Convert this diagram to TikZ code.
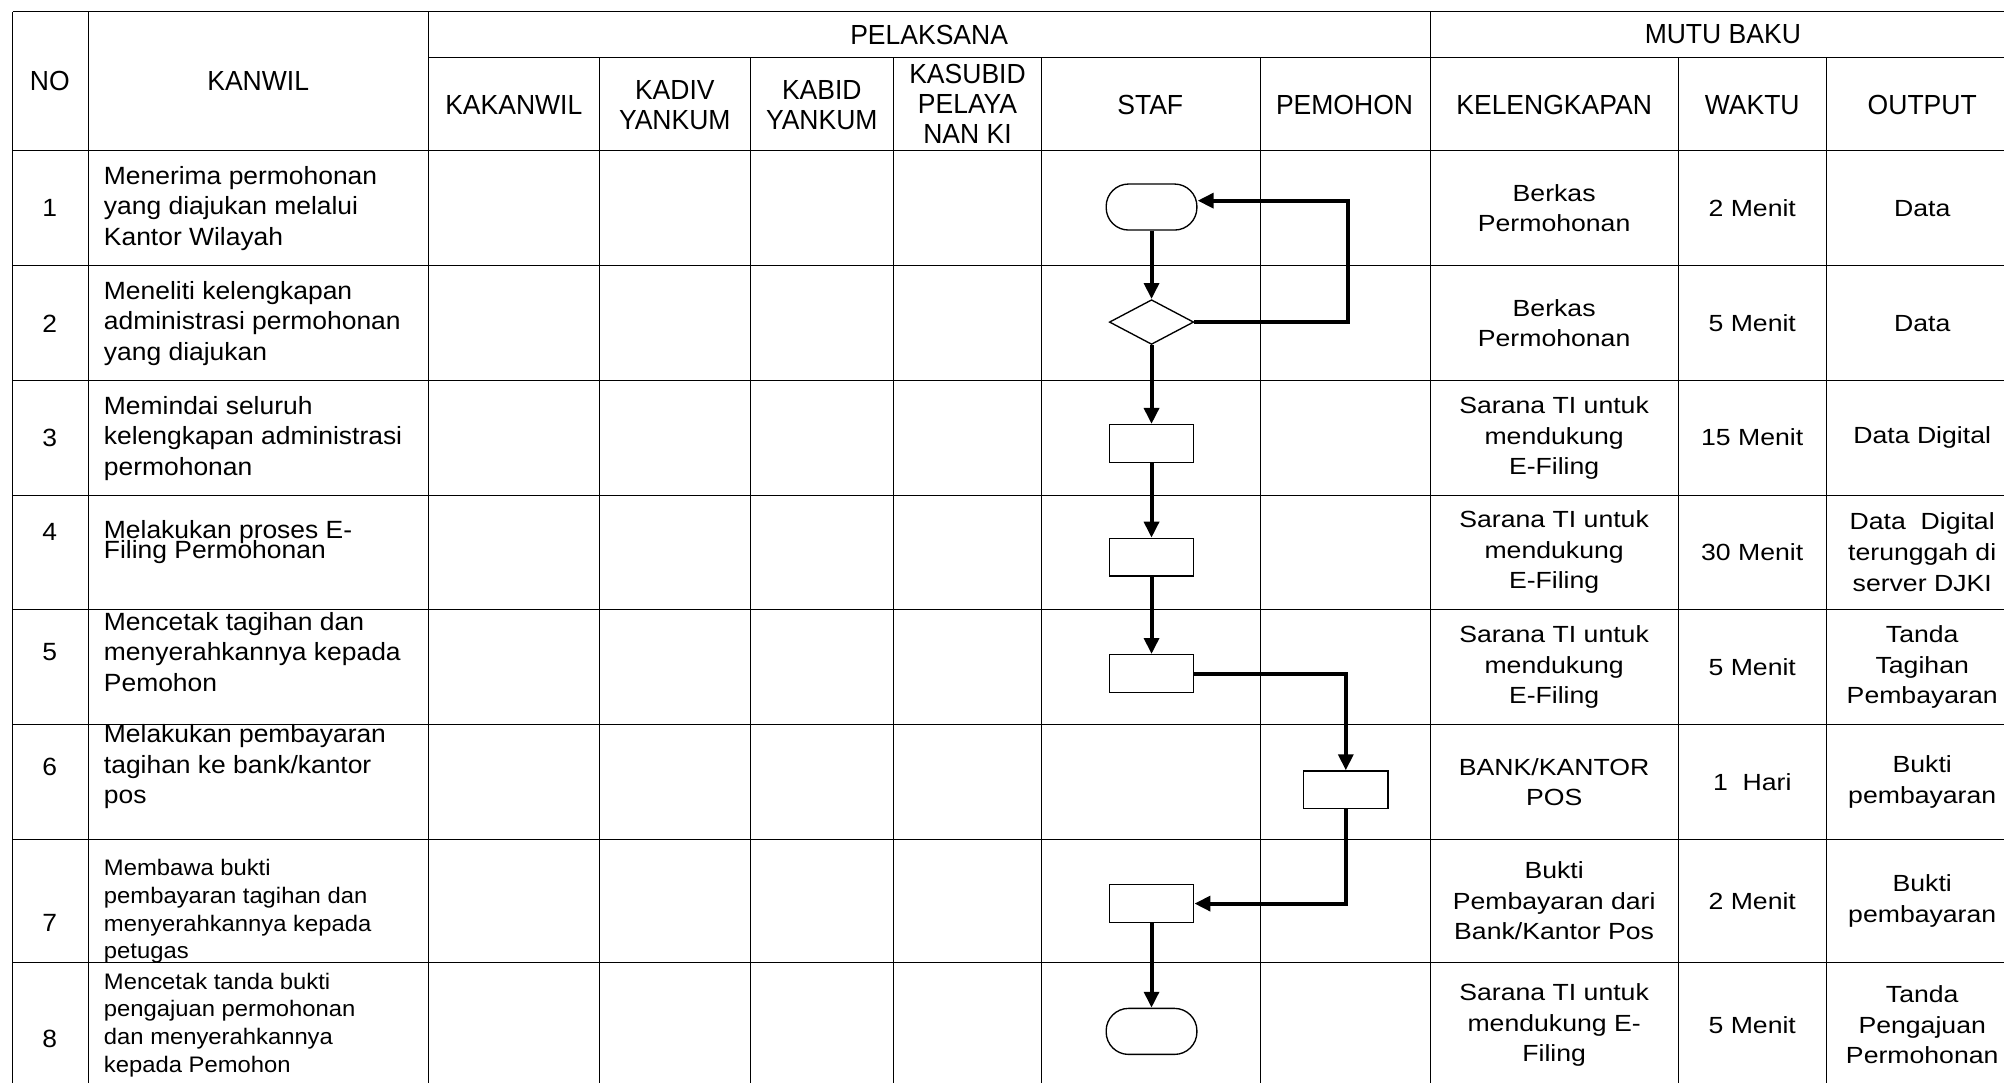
\documentclass[tikz,border=0pt]{standalone}
\usepackage{fontspec}
\setmainfont{Liberation Sans}
\newfontfamily\hdrfont{Liberation Sans}[FakeStretch=0.96]
\newfontfamily\kanfont{Liberation Sans}[FakeStretch=1.06]
\newfontfamily\mutfont{Liberation Sans}[FakeStretch=1.14]
\usetikzlibrary{shapes.geometric,arrows.meta}

\begin{document}
\begin{tikzpicture}[x=0.2mm,y=-0.2mm,
    grid/.style={line width=0.45pt},
    head/.style={font={\hdrfont\fontsize{12.3}{13.4}\selectfont},align=center,inner sep=0pt},
    num/.style={font={\kanfont\fontsize{11.1}{13.6}\selectfont},inner sep=0pt},
    task/.style={font={\kanfont\fontsize{11.1}{13.6}\selectfont},align=left,anchor=west,inner sep=0pt},
    small/.style={font={\kanfont\fontsize{10}{12.4}\selectfont}},
    tight/.style={font={\kanfont\fontsize{11.1}{9}\selectfont\lineskiplimit=-20pt}},
    mutu/.style={font={\mutfont\fontsize{10.4}{13.6}\selectfont},align=center,inner sep=0pt},
    proc/.style={draw,line width=0.6pt,minimum width=13.2mm,minimum height=5.9mm,inner sep=0pt},
    term/.style={draw,line width=0.6pt,rounded corners=3.5mm,minimum width=14.2mm,
        minimum height=7.2mm,inner sep=0pt},
    decide/.style={draw,line width=0.6pt,diamond,aspect=1.86,minimum width=13.2mm,
        minimum height=7mm,inner sep=0pt},
    flow/.style={line width=1.8pt,-{Triangle[length=2.5mm,width=2.3mm]}}]
\useasboundingbox (0,0) rectangle (1568,847);

% table
\draw[grid] (10,9) -- (1568,9);
\draw[grid] (335,45) -- (1568,45);
\foreach \y in {118,208,298,388,477,567,657,753}
    \draw[grid] (10,\y) -- (1568,\y);
\foreach \x in {10,69,335,1119}
    \draw[grid] (\x,9) -- (\x,847);
\foreach \x in {469,587,699,815,986,1313,1429}
    \draw[grid] (\x,45) -- (\x,847);

\node[head] (hno) at (39,63) {NO};
\node[head] (hkanwil) at (202,63) {KANWIL};
\node[head] (hpelaksana) at (727,27) {PELAKSANA};
\node[head] (hmutu) at (1348,27) {MUTU BAKU};
\node[head] (hkakanwil) at (402,82) {KAKANWIL};
\node[head] (hkadiv) at (528,82) {KADIV\\YANKUM};
\node[head] (hkabid) at (643,82) {KABID\\YANKUM};
\node[head] (hkasubid) at (757,81) {KASUBID\\PELAYA\\NAN KI};
\node[head] (hstaf) at (900,82) {STAF};
\node[head] (hpemohon) at (1052,82) {PEMOHON};
\node[head] (hkelengkapan) at (1216,82) {KELENGKAPAN};
\node[head] (hwaktu) at (1371,82) {WAKTU};
\node[head] (houtput) at (1504,82) {OUTPUT};

\foreach \n/\y in {1/163,2/253,3/343,4/416,5/510,6/600,7/722,8/813}
    \node[num] (no\n) at (39,\y) {\n};

\node[task] (k1) at (81,163) {Menerima permohonan\\yang diajukan melalui\\Kantor Wilayah};
\node[task] (k2) at (81,253) {Meneliti kelengkapan\\administrasi permohonan\\yang diajukan};
\node[task] (k3) at (81,343) {Memindai seluruh\\kelengkapan administrasi\\permohonan};
\node[task,tight] (k4) at (81,424) {Melakukan proses E-\\Filing Permohonan};
\node[task] (k5) at (81,510) {Mencetak tagihan dan\\menyerahkannya kepada\\Pemohon};
\node[task] (k6) at (81,600) {Melakukan pembayaran\\tagihan ke bank/kantor\\pos};
\node[task,small] (k7) at (81,713) {Membawa bukti\\pembayaran tagihan dan\\menyerahkannya kepada\\petugas};
\node[task,small] (k8) at (81,802) {Mencetak tanda bukti\\pengajuan permohonan\\dan menyerahkannya\\kepada Pemohon};

\node[mutu] (m1) at (1216,163) {Berkas\\Permohonan};
\node[mutu] (m2) at (1216,253) {Berkas\\Permohonan};
\node[mutu] (m3) at (1216,343) {Sarana TI untuk\\mendukung\\E-Filing};
\node[mutu] (m4) at (1216,432) {Sarana TI untuk\\mendukung\\E-Filing};
\node[mutu] (m5) at (1216,522) {Sarana TI untuk\\mendukung\\E-Filing};
\node[mutu] (m6) at (1216,612) {BANK/KANTOR\\POS};
\node[mutu] (m7) at (1216,705) {Bukti\\Pembayaran dari\\Bank/Kantor Pos};
\node[mutu] (m8) at (1216,802) {Sarana TI untuk\\mendukung E-\\Filing};

\node[mutu] (w1) at (1371,163) {2 Menit};
\node[mutu] (w2) at (1371,253) {5 Menit};
\node[mutu] (w3) at (1371,342) {15 Menit};
\node[mutu] (w4) at (1371,432) {30 Menit};
\node[mutu] (w5) at (1371,522) {5 Menit};
\node[mutu] (w6) at (1371,612) {1\ \ Hari};
\node[mutu] (w7) at (1371,705) {2 Menit};
\node[mutu] (w8) at (1371,802) {5 Menit};

\node[mutu] (o1) at (1504,163) {Data};
\node[mutu] (o2) at (1504,253) {Data};
\node[mutu] (o3) at (1504,342) {Data Digital};
\node[mutu] (o4) at (1504,432) {Data\ \ Digital\\terunggah di\\server DJKI};
\node[mutu] (o5) at (1504,522) {Tanda\\Tagihan\\Pembayaran};
\node[mutu] (o6) at (1504,612) {Bukti\\pembayaran};
\node[mutu] (o7) at (1504,705) {Bukti\\pembayaran};
\node[mutu] (o8) at (1504,802) {Tanda\\Pengajuan\\Permohonan};

% flow
\node[term] (t1) at (901,162) {};
\node[decide] (d2) at (901,252) {};
\node[proc] (p3) at (901,347) {};
\node[proc] (p4) at (901,436) {};
\node[proc] (p5) at (901,527) {};
\node[proc] (p6) at (1053,618) {};
\node[proc] (p7) at (901,707) {};
\node[term] (t8) at (901,807) {};

\draw[flow] (t1) -- (d2);
\draw[flow] (d2.east) -- ++(120,0) |- ([yshift=1mm]t1.east);
\draw[flow] (d2) -- (p3);
\draw[flow] (p3) -- (p4);
\draw[flow] (p4) -- (p5);
\draw[flow] (p5.east) -| (p6.north);
\draw[flow] (p6.south) |- (p7.east);
\draw[flow] (p7) -- (t8);
\end{tikzpicture}
\end{document}
